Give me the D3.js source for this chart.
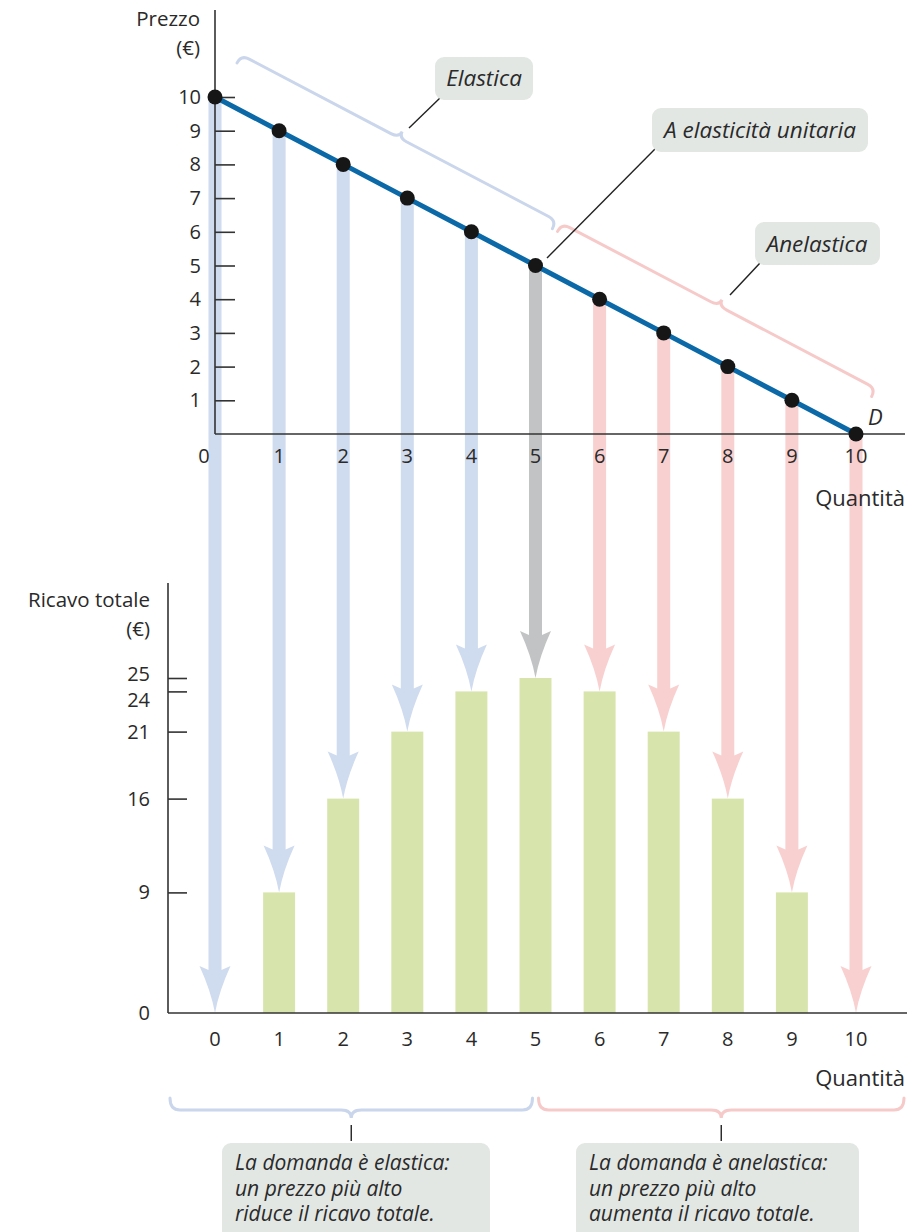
<!DOCTYPE html>
<html>
<head>
<meta charset="utf-8">
<script src="https://cdn.jsdelivr.net/npm/d3@7"></script>
<style>
  html, body { margin: 0; padding: 0; background: #fff; }
  svg { display: block; }
  text { font-family: "Open Sans", "Noto Sans", sans-serif; fill: #2a2a2a; }
</style>
</head>
<body>
<svg id="chart" width="907" height="1232"></svg>
<script>
// ---- data ----
const quantities = [0, 1, 2, 3, 4, 5, 6, 7, 8, 9, 10];
const prices     = [10, 9, 8, 7, 6, 5, 4, 3, 2, 1, 0];
const revenues   = [0, 9, 16, 21, 24, 25, 24, 21, 16, 9, 0];
const priceTicks = [1, 2, 3, 4, 5, 6, 7, 8, 9, 10];
const revenueTicks = [0, 9, 16, 21, 24, 25];
const qTicks = [0, 1, 2, 3, 4, 5, 6, 7, 8, 9, 10];
const zones = ["elastica", "elastica", "elastica", "elastica", "elastica", "unitaria",
               "anelastica", "anelastica", "anelastica", "anelastica", "anelastica"];
const topLabels = { price: ["Prezzo", "(€)"], qty: "Quantità", curve: "D" };
const botLabels = { rev: ["Ricavo totale", "(€)"], qty: "Quantità" };
const callouts = ["Elastica", "A elasticità unitaria", "Anelastica"];
const bottomNotes = [
  ["La domanda è elastica:", "un prezzo più alto", "riduce il ricavo totale."],
  ["La domanda è anelastica:", "un prezzo più alto", "aumenta il ricavo totale."]
];

const colors = { elastica: "#cfdbee", unitaria: "#c2c3c5", anelastica: "#f9d0d0" };
const braceColors = { elastica: "#cad6ec", anelastica: "#f7caca" };
const boxFill = "#e2e7e4";

const svg = d3.select("#chart");
const tickFS = 20, labelFS = 20.5, qtyFS = 22, calloutFS = 22.5, noteFS = 21;

// ---- scales ----
const x = d3.scaleLinear().domain([0, 10]).range([215, 856]);
const yP = d3.scaleLinear().domain([0, 10]).range([434, 97]);
const yR = d3.scaleLinear().domain([0, 25]).range([1013, 678]);

const topAxisX0 = 215, botAxisX0 = 168;

// ---- arrows (behind everything) ----
const arrowG = svg.append("g");
const shaftW = 13, headW = 31, headL = 47;
quantities.forEach((q, i) => {
  const cx = x(q);
  const y0 = yP(prices[i]);
  const tip = yR(revenues[i]);
  const hb = tip - headL;
  const p = d3.path();
  p.moveTo(cx - shaftW / 2, y0);
  p.lineTo(cx + shaftW / 2, y0);
  p.lineTo(cx + shaftW / 2, hb + 4);
  p.lineTo(cx + headW / 2, hb);
  p.quadraticCurveTo(cx + 4, tip - 22, cx, tip);
  p.quadraticCurveTo(cx - 4, tip - 22, cx - headW / 2, hb);
  p.lineTo(cx - shaftW / 2, hb + 4);
  p.closePath();
  arrowG.append("path").attr("d", p.toString()).attr("fill", colors[zones[i]]);
});

// ---- bottom bars ----
const barW = 32;
svg.append("g").selectAll("rect")
  .data(quantities.map((q, i) => ({ q, r: revenues[i] })).filter(d => d.r > 0))
  .join("rect")
  .attr("x", d => x(d.q) - barW / 2)
  .attr("y", d => yR(d.r))
  .attr("width", barW)
  .attr("height", d => yR(0) - yR(d.r))
  .attr("fill", "#d7e5ac");

// ---- top axes ----
const axisColor = "#333";
const topG = svg.append("g");
topG.append("line").attr("x1", topAxisX0).attr("x2", topAxisX0).attr("y1", 10).attr("y2", yP(0))
  .attr("stroke", axisColor).attr("stroke-width", 1.6);
topG.append("line").attr("x1", topAxisX0).attr("x2", 905).attr("y1", yP(0)).attr("y2", yP(0))
  .attr("stroke", axisColor).attr("stroke-width", 1.6);
const yAxisTop = d3.axisRight(yP).tickValues(priceTicks).tickSize(20).tickFormat("");
topG.append("g").attr("transform", `translate(${topAxisX0},0)`).call(yAxisTop)
  .call(g => g.select(".domain").remove())
  .call(g => g.selectAll("line").attr("stroke", axisColor).attr("stroke-width", 1.6));
topG.selectAll("text.ytl").data(priceTicks).join("text").attr("class", "ytl")
  .attr("x", 201).attr("y", d => yP(d)).attr("dy", "0.35em")
  .attr("text-anchor", "end").attr("font-size", tickFS).text(d => d);
topG.selectAll("text.xtl").data(qTicks).join("text").attr("class", "xtl")
  .attr("x", d => d === 0 ? 204 : x(d)).attr("y", yP(0) + 29)
  .attr("text-anchor", "middle").attr("font-size", tickFS).text(d => d);
topG.append("text").attr("x", 200).attr("y", 26).attr("text-anchor", "end").attr("font-size", labelFS).text(topLabels.price[0]);
topG.append("text").attr("x", 200).attr("y", 55).attr("text-anchor", "end").attr("font-size", labelFS).text(topLabels.price[1]);
topG.append("text").attr("x", 905).attr("y", 506).attr("text-anchor", "end").attr("font-size", qtyFS).text(topLabels.qty);

// ---- bottom axes ----
const botG = svg.append("g");
botG.append("line").attr("x1", botAxisX0).attr("x2", botAxisX0).attr("y1", 583).attr("y2", yR(0))
  .attr("stroke", axisColor).attr("stroke-width", 1.6);
botG.append("line").attr("x1", botAxisX0).attr("x2", 907).attr("y1", yR(0)).attr("y2", yR(0))
  .attr("stroke", axisColor).attr("stroke-width", 1.6);
const yAxisBot = d3.axisRight(yR).tickValues(revenueTicks.filter(d => d > 0)).tickSize(19).tickFormat("");
botG.append("g").attr("transform", `translate(${botAxisX0},0)`).call(yAxisBot)
  .call(g => g.select(".domain").remove())
  .call(g => g.selectAll("line").attr("stroke", axisColor).attr("stroke-width", 1.6));
const labelNudge = { 25: -4, 24: 9 };
botG.selectAll("text.ytl").data(revenueTicks).join("text").attr("class", "ytl")
  .attr("x", 150).attr("y", d => yR(d) + (labelNudge[d] || 0)).attr("dy", "0.35em")
  .attr("text-anchor", "end").attr("font-size", tickFS).text(d => d);
botG.selectAll("text.xtl").data(qTicks).join("text").attr("class", "xtl")
  .attr("x", d => x(d)).attr("y", yR(0) + 33)
  .attr("text-anchor", "middle").attr("font-size", tickFS).text(d => d);
botG.append("text").attr("x", 150).attr("y", 607).attr("text-anchor", "end").attr("font-size", labelFS).text(botLabels.rev[0]);
botG.append("text").attr("x", 150).attr("y", 636).attr("text-anchor", "end").attr("font-size", labelFS).text(botLabels.rev[1]);
botG.append("text").attr("x", 905).attr("y", 1086).attr("text-anchor", "end").attr("font-size", qtyFS).text(botLabels.qty);

// ---- demand line and dots ----
const line = d3.line().x((d, i) => x(quantities[i])).y(d => yP(d));
svg.append("path").attr("d", line(prices)).attr("fill", "none")
  .attr("stroke", "#0b69a8").attr("stroke-width", 5);
svg.append("g").selectAll("circle").data(prices).join("circle")
  .attr("cx", (d, i) => x(quantities[i])).attr("cy", d => yP(d)).attr("r", 7.5)
  .attr("fill", "#161616");
svg.append("text").attr("x", 868).attr("y", 425).attr("font-size", 22).attr("font-style", "italic")
  .text(topLabels.curve);

// ---- braces ----
function bracePath(L, m, hook, tipH, r) {
  return `M0,${hook} Q0,0 ${r},0 L${m - r},0 Q${m},0 ${m},${-tipH} Q${m},0 ${m + r},0 L${L - r},0 Q${L},0 ${L},${hook}`;
}
const theta = Math.atan2(yP(0) - yP(10), x(10) - x(0));
const thetaDeg = theta * 180 / Math.PI;
const dPerp = 49.5;
function topBrace(q0, q1, color) {
  const L = (x(q1) - x(q0)) / Math.cos(theta);
  svg.append("path")
    .attr("transform", `translate(${x(q0)},${yP(10 - q0)}) rotate(${thetaDeg}) translate(0,${-dPerp})`)
    .attr("d", bracePath(L, L / 2, 9, 7, 9))
    .attr("fill", "none").attr("stroke", color).attr("stroke-width", 3).attr("stroke-linecap", "round");
}
topBrace(0.05, 4.97, braceColors.elastica);
topBrace(5.05, 9.95, braceColors.anelastica);

function botBrace(x0, x1, color) {
  svg.append("path")
    .attr("transform", `translate(${x0},1110) scale(1,-1)`)
    .attr("d", bracePath(x1 - x0, (x1 - x0) / 2, 12, 8, 10))
    .attr("fill", "none").attr("stroke", color).attr("stroke-width", 3).attr("stroke-linecap", "round");
}
botBrace(botAxisX0 + 2, x(5) - 3, braceColors.elastica);
botBrace(x(5) + 3, 904, braceColors.anelastica);

// ---- callouts ----
function leader(x1, y1, x2, y2) {
  svg.append("line").attr("x1", x1).attr("y1", y1).attr("x2", x2).attr("y2", y2)
    .attr("stroke", "#222").attr("stroke-width", 1.4);
}
function box(x0, y0, w, h) {
  svg.append("rect").attr("x", x0).attr("y", y0).attr("width", w).attr("height", h)
    .attr("rx", 9).attr("fill", boxFill);
}
leader(440, 98, 409, 128);
box(435, 57, 98, 43);
svg.append("text").attr("x", 484).attr("y", 78).attr("dy", "0.35em").attr("text-anchor", "middle")
  .attr("font-size", calloutFS).attr("font-style", "italic").text(callouts[0]);

leader(656, 148, 547, 258);
box(652, 108, 216, 44);
svg.append("text").attr("x", 760).attr("y", 130).attr("dy", "0.35em").attr("text-anchor", "middle")
  .attr("font-size", calloutFS).attr("font-style", "italic").text(callouts[1]);

leader(760, 263, 730, 295);
box(755, 222, 125, 43);
svg.append("text").attr("x", 817).attr("y", 244).attr("dy", "0.35em").attr("text-anchor", "middle")
  .attr("font-size", calloutFS).attr("font-style", "italic").text(callouts[2]);

// bottom notes
const notesPos = [
  { bx: 222, bw: 268, cx: (botAxisX0 + 2 + x(5) - 3) / 2 },
  { bx: 576, bw: 283, cx: (x(5) + 3 + 904) / 2 }
];
bottomNotes.forEach((lines, k) => {
  const p = notesPos[k];
  leader(p.cx, 1125, p.cx, 1141);
  box(p.bx, 1143, p.bw, 110);
  svg.append("g").selectAll("text").data(lines).join("text")
    .attr("x", p.bx + 13).attr("y", (d, i) => 1163 + i * 25.5).attr("dy", "0.35em")
    .attr("font-size", noteFS).attr("font-style", "italic").text(d => d);
});
</script>
</body>
</html>
